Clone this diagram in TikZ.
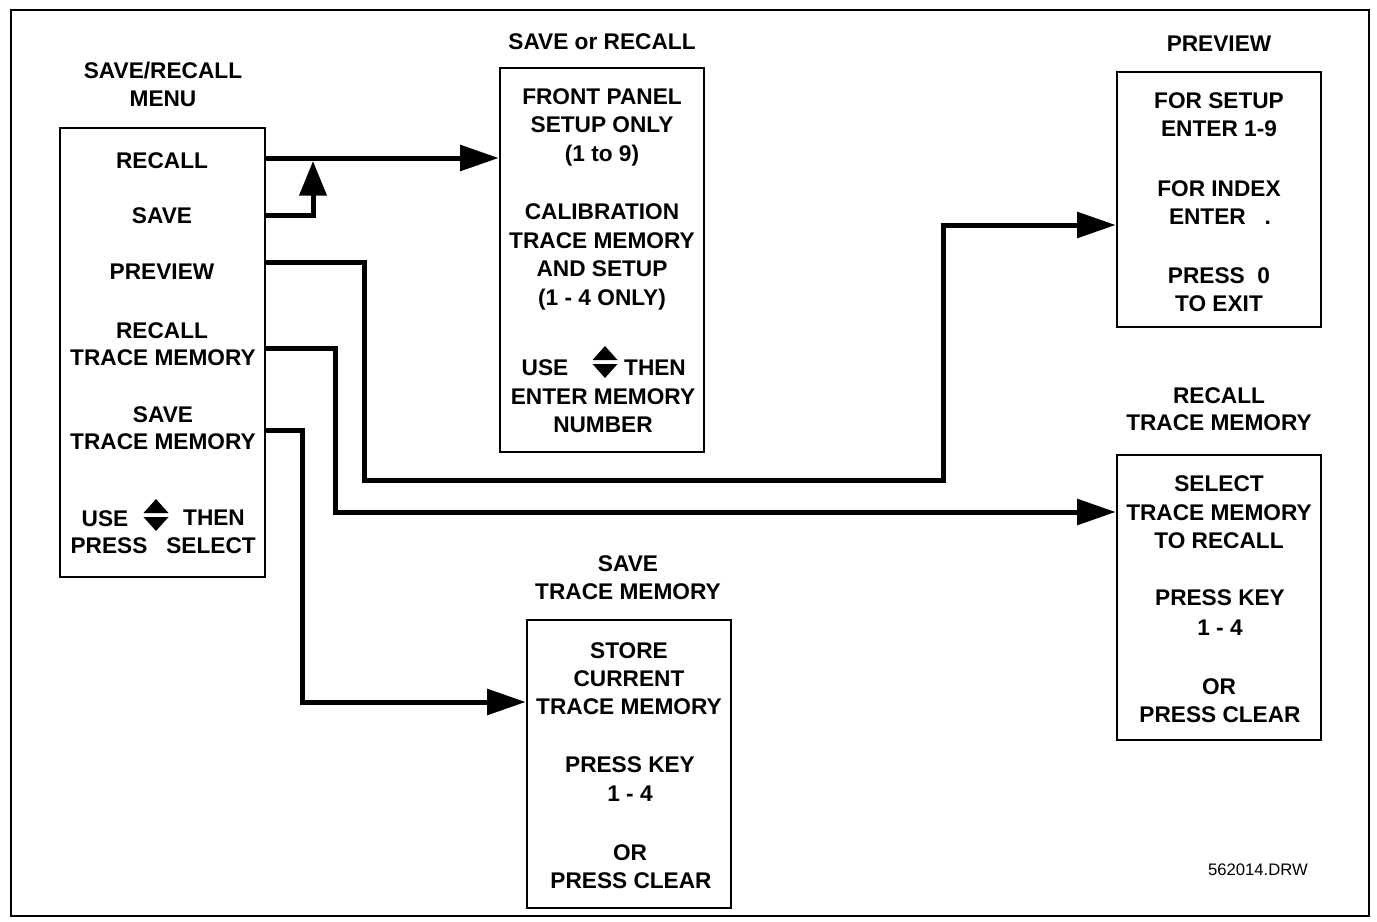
\documentclass[tikz,border=0pt]{standalone}
\usepackage{fontspec}
\setmainfont{Liberation Sans}
\usetikzlibrary{arrows.meta}
\tikzset{
  t/.style={font=\fontsize{17}{20}\selectfont\bfseries, inner sep=0pt, text height=12.2pt, text depth=0pt, anchor=center},
  boxn/.style={draw, line width=1.5pt, inner sep=0pt, minimum width=153.5pt},
  arr/.style={line width=3.75pt, line join=miter, -{Triangle[length=29pt,width=19pt]}},
  uparr/.style={line width=3.75pt, line join=miter, -{Triangle[length=26pt,width=20pt]}},
  updn/.pic={\fill (-12.5,-2) -- (0,-16) -- (12.5,-2) -- cycle;
             \fill (-12.5,2) -- (0,16) -- (12.5,2) -- cycle;}
}
\begin{document}
\begin{tikzpicture}[x=0.75pt,y=-0.75pt]
\useasboundingbox (0,0) rectangle (1377,921);
\draw[line width=2pt] (11,10) rectangle (1369,916);

% boxes
\node[boxn, minimum height=336.75pt] (menu) at (162.5,352.5) {};
\node[boxn, minimum height=288pt] (sr) at (602,260) {};
\node[boxn, minimum height=191.25pt] (pv) at (1219,199.5) {};
\node[boxn, minimum height=213.75pt] (rtm) at (1219,597.5) {};
\node[boxn, minimum height=216pt] (stm) at (629,764) {};

% menu texts
\node[t] (mt1) at (163,70) {SAVE/RECALL};
\node[t] (mt2) at (163,98) {MENU};
\node[t] (mrecall) at (162,160) {RECALL};
\node[t] (msave) at (162,215) {SAVE};
\node[t] (mpreview) at (162,271) {PREVIEW};
\node[t] (mrtm1) at (162,330) {RECALL};
\node[t] (mrtm2) at (163,357) {TRACE MEMORY};
\node[t] (mstm1) at (163,414) {SAVE};
\node[t] (mstm2) at (163,441) {TRACE MEMORY};
\node[t] (muse) at (105,518) {USE};
\pic at (156,515) {updn};
\node[t] (mthen) at (214,517) {THEN};
\node[t] (mpress) at (109,545) {PRESS};
\node[t] (mselect) at (211,545) {SELECT};

% save or recall
\node[t] (srt) at (602,41) {SAVE or RECALL};
\node[t] (sr1) at (602,96) {FRONT PANEL};
\node[t] (sr2) at (602,124) {SETUP ONLY};
\node[t] (sr3) at (602,153) {(1 to 9)};
\node[t] (sr4) at (602,211) {CALIBRATION};
\node[t] (sr5) at (602,240) {TRACE MEMORY};
\node[t] (sr6) at (602,268) {AND SETUP};
\node[t] (sr7) at (602,297) {(1 - 4 ONLY)};
\node[t] (sruse) at (545,367) {USE};
\pic at (605,362) {updn};
\node[t] (srthen) at (655,367) {THEN};
\node[t] (sr8) at (603,396) {ENTER MEMORY};
\node[t] (sr9) at (603,424) {NUMBER};

% preview
\node[t] (pvt) at (1219,43) {PREVIEW};
\node[t] (pv1) at (1219,100) {FOR SETUP};
\node[t] (pv2) at (1219,128) {ENTER 1-9};
\node[t] (pv3) at (1219,188) {FOR INDEX};
\node[t] (pv4) at (1220,216) {ENTER\ \ \ .};
\node[t] (pv5) at (1219,275) {PRESS\ \ 0};
\node[t] (pv6) at (1219,303) {TO EXIT};

% recall trace memory
\node[t] (rtmt1) at (1219,395) {RECALL};
\node[t] (rtmt2) at (1219,422) {TRACE MEMORY};
\node[t] (rtm1) at (1219,483) {SELECT};
\node[t] (rtm2) at (1219,512) {TRACE MEMORY};
\node[t] (rtm3) at (1219,540) {TO RECALL};
\node[t] (rtm4) at (1220,597) {PRESS KEY};
\node[t] (rtm5) at (1220,627) {1 - 4};
\node[t] (rtm6) at (1219,686) {OR};
\node[t] (rtm7) at (1220,714) {PRESS CLEAR};

% save trace memory
\node[t] (stmt1) at (628,563) {SAVE};
\node[t] (stmt2) at (628,591) {TRACE MEMORY};
\node[t] (stm1) at (629,650) {STORE};
\node[t] (stm2) at (629,678) {CURRENT};
\node[t] (stm3) at (629,706) {TRACE MEMORY};
\node[t] (stm4) at (630,764) {PRESS KEY};
\node[t] (stm5) at (630,793) {1 - 4};
\node[t] (stm6) at (630,852) {OR};
\node[t] (stm7) at (631,880) {PRESS CLEAR};

\node[font=\fontsize{12.5}{14}\selectfont, inner sep=0pt] (drw) at (1258,870) {562014.DRW};

% connector coordinates
\coordinate (jr) at (265,158);
\coordinate (js) at (313,161);
\coordinate (p0) at (265,262);
\coordinate (p1) at (364,480);
\coordinate (p2) at (943,225);
\coordinate (r0) at (265,348);
\coordinate (r1) at (335,512);
\coordinate (s0) at (265,430);
\coordinate (s1) at (302,702);

% connectors
\draw[arr] (menu.east |- jr) -- (sr.west |- jr);
\draw[uparr] (menu.east |- msave) -| (js);
\draw[arr] (menu.east |- p0) -| (p1) -| (p2) -- (pv.west |- p2);
\draw[arr] (menu.east |- r0) -| (r1) -- (rtm.west |- r1);
\draw[arr] (menu.east |- s0) -| (s1) -- (stm.west |- s1);
\end{tikzpicture}
\end{document}
